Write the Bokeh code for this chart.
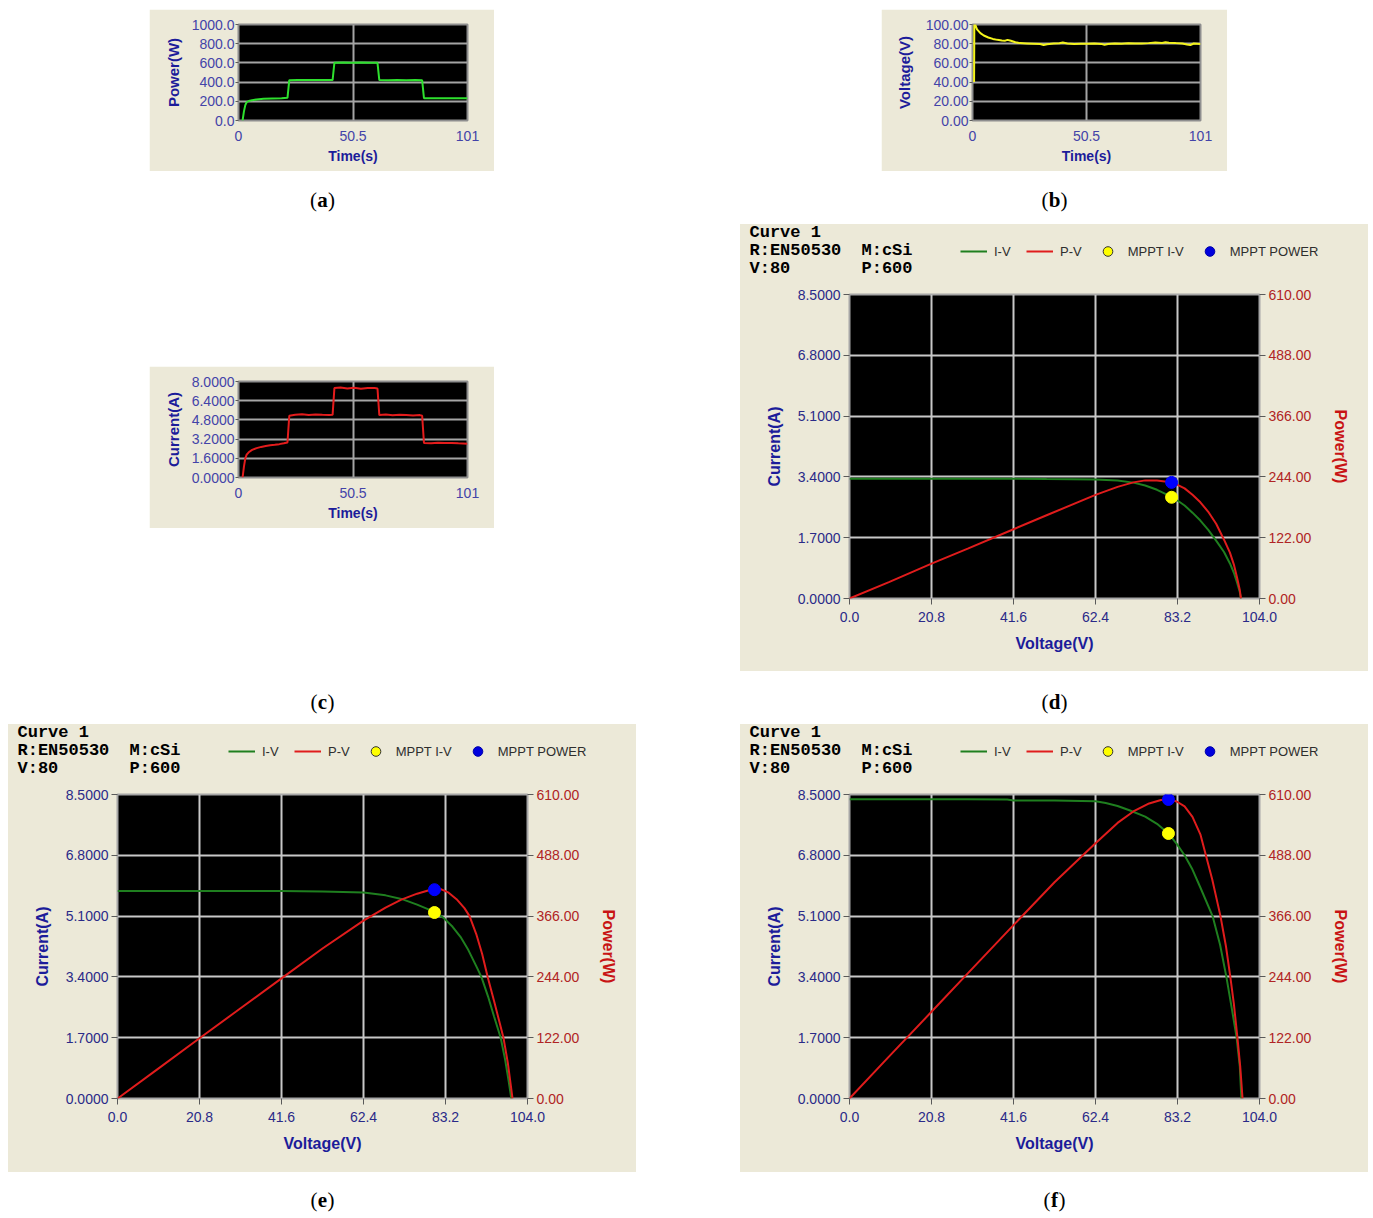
from bokeh.plotting import figure
from bokeh.models import (Range1d, LinearAxis, FixedTicker, PrintfTickFormatter,
                          Label, Legend, LegendItem, Spacer)
from bokeh.layouts import row, column
from bokeh.embed import file_html
from bokeh.resources import INLINE

# ---------------- data ----------------
TIME_TICKS = [0, 50.5, 101]
TIME_LABELS = ["0", "50.5", "101"]

power_t = [1.8, 2.4, 3.0, 3.6, 4.5, 6.0, 8.0, 11.0, 15.0, 19.0,
           21.6, 22.4, 26.0, 30.0, 34.0, 38.0, 41.5,
           42.3, 46.0, 50.0, 54.0, 58.0, 61.3,
           62.1, 66.0, 70.0, 74.0, 78.0, 81.0,
           81.8, 86.0, 90.0, 94.0, 98.0, 101.0]
power_w = [0, 95, 160, 190, 203, 212, 219, 226, 230, 233,
           236, 420, 422, 421, 422, 421, 421,
           602, 603, 601, 603, 602, 601,
           421, 420, 421, 420, 421, 419,
           233, 232, 233, 231, 232, 232]
power_ticks = [0, 200, 400, 600, 800, 1000]

volt_t = [0.7, 0.8, 1.2, 2.0, 3.5, 5.0, 7.0, 9.0, 11.0, 13.0,
          14.5, 15.5, 17.0, 19.0, 21.0, 24.0, 27.0, 30.0, 31.5, 33.0,
          36.0, 38.5, 40.0, 42.0, 45.0, 48.0, 51.0, 54.0, 57.0, 58.5,
          60.0, 63.0, 66.0, 69.0, 72.0, 75.0, 78.0, 81.0, 84.0, 85.5,
          87.0, 90.0, 93.0, 95.0, 96.5, 98.0, 101.0]
volt_v = [40, 99, 100, 95, 91, 88.5, 86.5, 85, 84, 83.4,
          83.2, 84.0, 83.0, 81.5, 80.6, 80.3, 80.0, 79.6, 78.6, 79.5,
          80.1, 80.4, 81.2, 80.2, 79.8, 80.0, 79.9, 80.3, 79.8, 78.8,
          79.6, 80.2, 79.9, 80.4, 80.1, 80.2, 80.6, 81.2, 80.8, 81.6,
          80.9, 80.6, 80.2, 79.2, 78.6, 80.2, 79.8]
volt_ticks = [0, 20, 40, 60, 80, 100]

curr_t = [1.8, 2.4, 3.0, 3.6, 4.5, 6.0, 8.0, 10.0, 12.0, 14.0,
          16.0, 18.0, 20.0, 21.6, 22.4, 25.0, 28.0, 31.0, 34.0, 37.0,
          40.0, 41.5, 42.3, 45.0, 48.0, 51.0, 54.0, 57.0, 60.0, 61.3,
          62.1, 65.0, 68.0, 71.0, 74.0, 77.0, 80.0, 81.0, 81.8, 85.0,
          88.0, 91.0, 94.0, 97.0, 101.0]
curr_a = [0.0, 0.9, 1.6, 1.9, 2.1, 2.3, 2.45, 2.55, 2.62, 2.68,
          2.72, 2.78, 2.85, 2.92, 5.15, 5.22, 5.28, 5.20, 5.25, 5.22,
          5.20, 5.22, 7.45, 7.50, 7.42, 7.48, 7.40, 7.46, 7.45, 7.42,
          5.20, 5.25, 5.18, 5.22, 5.20, 5.17, 5.20, 5.15, 2.88, 2.85,
          2.90, 2.87, 2.88, 2.85, 2.82]
curr_ticks = [0, 1.6, 3.2, 4.8, 6.4, 8.0]

V_TICKS = [0, 20.8, 41.6, 62.4, 83.2, 104.0]
I_TICKS = [0, 1.7, 3.4, 5.1, 6.8, 8.5]
P_TICKS = [0, 122, 244, 366, 488, 610]

# panel (d)
d_iv_v = [0, 10, 20.8, 30, 41.6, 50, 62.4, 68, 72, 75, 78, 80, 81.7, 83.2, 85, 87, 89, 91, 93, 95, 96.5, 97.5, 98.3, 99.0, 99.3]
d_iv_i = [3.35, 3.35, 3.35, 3.35, 3.35, 3.34, 3.33, 3.30, 3.24, 3.16, 3.04, 2.93, 2.83, 2.74, 2.60, 2.40, 2.18, 1.92, 1.62, 1.30, 0.98, 0.72, 0.45, 0.18, 0.0]
d_pv_v = [0, 10, 20.8, 30, 41.6, 50, 62.4, 68, 72, 75, 78, 80, 81.7, 83.2, 85, 87, 89, 91, 93, 95, 96.5, 97.5, 98.3, 99.0, 99.3]
d_pv_p = [0, 33, 70, 100, 139, 167, 208, 224, 233, 237, 237, 235, 233, 228, 221, 208, 193, 174, 150, 118, 92, 68, 42, 17, 0]
d_mppt = (81.7, 2.83, 233)

# panel (e)
e_iv_v = [0, 10, 20.8, 30, 41.6, 52, 62.4, 68, 72, 76, 80.4, 82.7, 85, 87, 89, 91, 92.3, 94, 95.5, 97.2, 98.3, 99.2, 99.9]
e_iv_i = [5.80, 5.80, 5.80, 5.80, 5.80, 5.79, 5.76, 5.68, 5.58, 5.42, 5.22, 5.05, 4.80, 4.52, 4.15, 3.70, 3.40, 2.85, 2.30, 1.70, 1.10, 0.50, 0.0]
e_pv_v = [0, 10, 20.8, 30, 41.6, 52, 62.4, 68, 72, 76, 79, 80.4, 82, 84, 86, 88, 89.3, 91, 92.5, 93.9, 95.5, 97, 97.9, 99, 100.2]
e_pv_p = [0, 58, 121, 174, 241, 301, 357, 383, 399, 411, 418, 419, 420, 413, 400, 382, 366, 330, 290, 244, 196, 150, 122, 72, 0]
e_mppt = (80.4, 5.20, 419)

# panel (f)
f_iv_v = [0, 10, 20.8, 30, 40, 41.6, 52, 62.4, 65, 68, 71, 75, 78, 80.9, 83, 85, 87, 89, 92.1, 94, 95.6, 97, 98.2, 99.0, 99.4]
f_iv_i = [8.37, 8.37, 8.37, 8.37, 8.36, 8.33, 8.33, 8.31, 8.26, 8.18, 8.06, 7.88, 7.68, 7.41, 7.12, 6.80, 6.40, 5.90, 5.10, 4.30, 3.40, 2.50, 1.70, 0.90, 0.0]
f_pv_v = [0, 10, 20.8, 30, 41.6, 52, 62.4, 68, 72, 76, 79, 80.9, 83, 85, 87, 89, 90.4, 92, 94.1, 95.5, 96.6, 97.5, 98.4, 99.1, 99.7]
f_pv_p = [0, 84, 174, 251, 348, 434, 512, 553, 576, 592, 599, 600, 596, 586, 565, 530, 488, 440, 366, 305, 244, 190, 122, 65, 0]
f_mppt = (80.9, 7.41, 600)

HEADER = [("Curve 1", ""), ("R:EN50530", "M:cSi"), ("V:80", "P:600")]
LEGEND_LABELS = ["I-V", "P-V", "MPPT I-V", "MPPT POWER"]

# ---------------- style ----------------
BG = "#ece9d8"
FONT = "Liberation Sans"
NAVY = "#1c1c9a"
TICK_BLUE_SMALL = "#4343a8"
TICK_BLUE = "#2a2a88"
TICK_RED = "#b02424"
RED_LABEL = "#c81414"
GREEN = "#1f7f1f"
RED = "#e01c1c"
HEADER_H = 62


def style_axis(ax, tick_color, label_color, tick_size, label_size, tick_out, standoff, label_standoff):
    ax.major_label_text_color = tick_color
    ax.major_label_text_font = FONT
    ax.major_label_text_font_size = tick_size
    ax.axis_label_text_color = label_color
    ax.axis_label_text_font = FONT
    ax.axis_label_text_font_style = "bold"
    ax.axis_label_text_font_size = label_size
    ax.axis_line_color = None
    ax.major_tick_line_color = "#5a5a5a" if tick_out > 0 else None
    ax.major_tick_out = tick_out
    ax.major_tick_in = 0
    ax.minor_tick_line_color = None
    ax.major_label_standoff = standoff
    ax.axis_label_standoff = label_standoff


def small_panel(t, y, color, ymax, yticks, fmt, ylabel, width, left, ylab_standoff):
    p = figure(width=width, height=162, x_range=Range1d(0, 101), y_range=Range1d(0, ymax),
               min_border_left=left, min_border_right=27, min_border_top=15, min_border_bottom=51,
               background_fill_color="black", border_fill_color=BG,
               outline_line_color="#8e8e8e", outline_line_width=2,
               toolbar_location=None, output_backend="svg", frame_align=False,
               x_axis_label="Time(s)", y_axis_label=ylabel)
    p.line(t, y, line_color=color, line_width=2)
    p.xaxis.ticker = FixedTicker(ticks=TIME_TICKS)
    p.xaxis.major_label_overrides = dict(zip(TIME_TICKS, TIME_LABELS))
    p.yaxis.ticker = FixedTicker(ticks=yticks)
    p.yaxis.formatter = PrintfTickFormatter(format=fmt)
    style_axis(p.xaxis[0], TICK_BLUE_SMALL, NAVY, "14px", "14px", 0, 10, 4)
    style_axis(p.yaxis[0], TICK_BLUE_SMALL, NAVY, "14px", "15px", 3, 1, ylab_standoff)
    p.grid.grid_line_color = "#a4a4a4"
    p.grid.grid_line_width = 2
    return p


def header_fig():
    h = HEADER_H
    p = figure(width=628, height=h, x_range=Range1d(0, 628), y_range=Range1d(0, h),
               x_axis_type=None, y_axis_type=None, min_border=0, frame_align=False,
               toolbar_location=None, output_backend="svg", outline_line_color=None,
               background_fill_color=BG, border_fill_color=BG)
    ys = [8, 26, 44]
    for (left_txt, right_txt), yy in zip(HEADER, ys):
        for txt, xx in ((left_txt, 9), (right_txt, 121)):
            if txt:
                p.add_layout(Label(x=xx, y=h - yy, text=txt,
                                   text_font="Liberation Mono", text_font_style="bold",
                                   text_font_size="17px", text_color="black",
                                   text_baseline="middle", text_align="left"))
    nan = float("nan")
    g = p.line([nan], [nan], line_color=GREEN, line_width=2)
    r = p.line([nan], [nan], line_color=RED, line_width=2)
    yv = p.scatter([nan], [nan], fill_color="#ffff00", line_color="#333333", line_width=1)
    bv = p.scatter([nan], [nan], fill_color="#0000dd", line_color="#0000aa", line_width=1)
    legend = Legend(items=[LegendItem(label=LEGEND_LABELS[0], renderers=[g]),
                           LegendItem(label=LEGEND_LABELS[1], renderers=[r]),
                           LegendItem(label=LEGEND_LABELS[2], renderers=[yv]),
                           LegendItem(label=LEGEND_LABELS[3], renderers=[bv])],
                    orientation="horizontal", location=(220, h - 39),
                    background_fill_alpha=0, border_line_color=None,
                    padding=0, margin=0, spacing=12, glyph_width=27, glyph_height=24,
                    label_height=20, label_standoff=7,
                    label_text_font=FONT, label_text_font_size="13px", label_text_color="#2e2e2e")
    p.add_layout(legend)
    return p


def big_panel(height, iv_v, iv_i, pv_v, pv_p, mppt):
    top = 70 - HEADER_H
    body_h = height - HEADER_H
    bottom = body_h - top - 304
    p = figure(width=628, height=body_h, x_range=Range1d(0, 104), y_range=Range1d(0, 8.5),
               min_border_left=109, min_border_right=109, min_border_top=top, min_border_bottom=bottom,
               background_fill_color="black", border_fill_color=BG,
               outline_line_color="#a6a6a6", outline_line_width=2,
               toolbar_location=None, output_backend="svg", frame_align=False,
               x_axis_label="Voltage(V)", y_axis_label="Current(A)")
    p.extra_y_ranges = {"pw": Range1d(0, 610)}
    rax = LinearAxis(y_range_name="pw", axis_label="Power(W)")
    p.add_layout(rax, "right")

    p.xaxis.ticker = FixedTicker(ticks=V_TICKS)
    p.xaxis.formatter = PrintfTickFormatter(format="%.1f")
    lax = p.yaxis[0]
    lax.ticker = FixedTicker(ticks=I_TICKS)
    lax.formatter = PrintfTickFormatter(format="%.4f")
    rax.ticker = FixedTicker(ticks=P_TICKS)
    rax.formatter = PrintfTickFormatter(format="%.2f")

    style_axis(p.xaxis[0], TICK_BLUE, NAVY, "14px", "16px", 6, 7, 10)
    style_axis(lax, TICK_BLUE, NAVY, "14px", "16px", 6, 3, 12)
    style_axis(rax, TICK_RED, RED_LABEL, "14px", "16px", 6, 3, 18)

    p.xgrid.grid_line_color = "#c8c8c8"
    p.xgrid.grid_line_width = 2
    p.ygrid.grid_line_color = "#c8c8c8"
    p.ygrid.grid_line_width = 2

    p.line(iv_v, iv_i, line_color=GREEN, line_width=2)
    p.line(pv_v, pv_p, line_color=RED, line_width=2, y_range_name="pw")
    mv, mi, mp = mppt
    p.scatter([mv], [mi], size=12, fill_color="#ffff00", line_color="#ffff00")
    p.scatter([mv], [mp], size=12, fill_color="#0000ff", line_color="#0000ff", y_range_name="pw")
    return column(header_fig(), p, styles={"background-color": BG})


HALF = {"a": 5.5, "b": 6.0, "c": 5.0, "d": 6.0, "e": 5.0, "f": 4.0}


def caption(letter, height, cy):
    p = figure(width=628, height=height, x_range=Range1d(0, 628), y_range=Range1d(0, height),
               x_axis_type=None, y_axis_type=None, min_border=0, frame_align=False,
               toolbar_location=None, output_backend="svg", outline_line_color=None,
               background_fill_color="white", border_fill_color="white")
    half = HALF[letter]
    common = dict(y=height - cy, text_baseline="middle", text_font="Liberation Serif",
                  text_font_size="21px", text_color="black")
    p.add_layout(Label(x=314 - half, text="(", text_align="right", **common))
    p.add_layout(Label(x=314, text=letter, text_align="center", text_font_style="bold", **common))
    p.add_layout(Label(x=314 + half, text=")", text_align="left", **common))
    return p


fig_a = small_panel(power_t, power_w, "#2ee02e", 1000, power_ticks, "%.1f", "Power(W)", 345, 89, 7)
fig_b = small_panel(volt_t, volt_v, "#f4f41c", 100, volt_ticks, "%.2f", "Voltage(V)", 346, 91, 10)
fig_c = small_panel(curr_t, curr_a, "#e41c1c", 8, curr_ticks, "%.4f", "Current(A)", 345, 89, 7)

fig_d = big_panel(447, d_iv_v, d_iv_i, d_pv_v, d_pv_p, d_mppt)
fig_e = big_panel(448, e_iv_v, e_iv_i, e_pv_v, e_pv_p, e_mppt)
fig_f = big_panel(448, f_iv_v, f_iv_i, f_pv_v, f_pv_p, f_mppt)

left_col = column(
    Spacer(width=628, height=9),
    row(Spacer(width=141, height=162), fig_a),
    caption("a", 53, 28),
    Spacer(width=628, height=142),
    row(Spacer(width=141, height=162), fig_c),
    Spacer(width=628, height=152),
    caption("c", 44, 21),
    fig_e,
    caption("e", 46, 27),
)

right_col = column(
    Spacer(width=628, height=9),
    row(Spacer(width=141, height=162), fig_b),
    caption("b", 53, 28),
    fig_d,
    caption("d", 53, 30),
    fig_f,
    caption("f", 46, 27),
)

layout = row(Spacer(width=8, height=1218), left_col, Spacer(width=104, height=1218), right_col)

open("out.html", "w").write(file_html(layout, INLINE))
